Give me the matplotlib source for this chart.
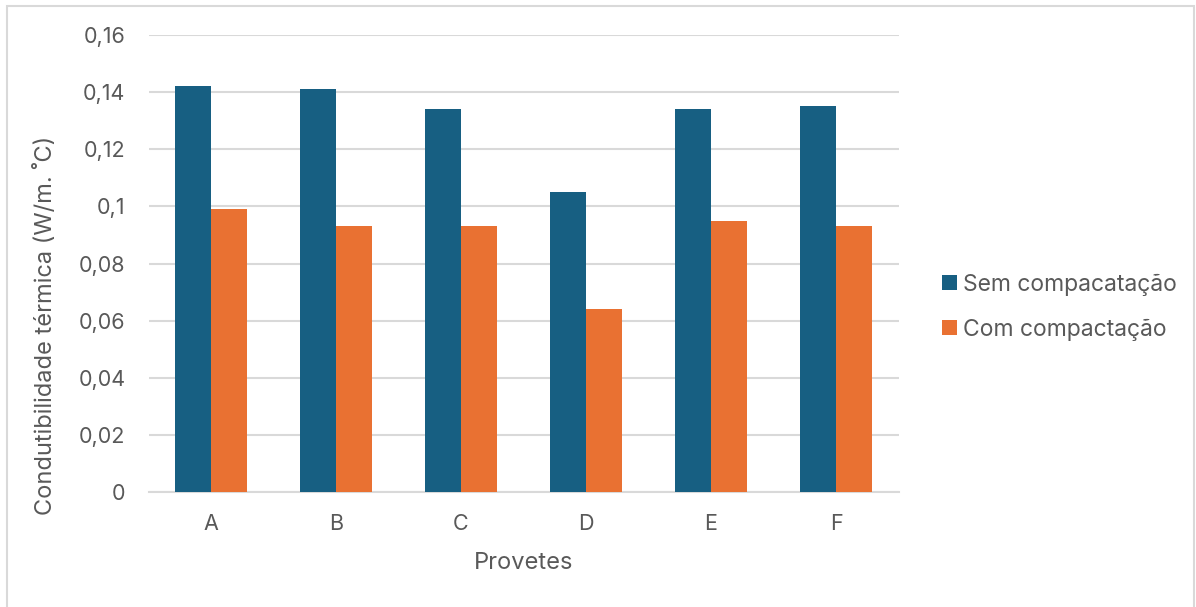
import matplotlib
matplotlib.use("Agg")
import matplotlib.pyplot as plt
from matplotlib.patches import Rectangle
import numpy as np

categories = ["A", "B", "C", "D", "E", "F"]
sem_compactacao = [0.142, 0.141, 0.134, 0.105, 0.134, 0.135]
com_compactacao = [0.099, 0.093, 0.093, 0.064, 0.095, 0.093]
series_names = ["Sem compacatação", "Com compactação"]
y_ticks = [0, 0.02, 0.04, 0.06, 0.08, 0.1, 0.12, 0.14, 0.16]
y_tick_labels = ["0", "0,02", "0,04", "0,06", "0,08", "0,1", "0,12", "0,14", "0,16"]

plt.rcParams["font.family"] = ["Inter", "DejaVu Sans"]
text_color = "#595959"
blue = "#175F82"
orange = "#E97132"

W, H = 1196, 607
fig = plt.figure(figsize=(W / 100, H / 100), dpi=100)

# outer chart frame
fig.patches.append(Rectangle((7 / W, -0.01), (1194 - 7) / W, 1 - 6 / H + 0.01,
                             transform=fig.transFigure, fill=False,
                             edgecolor="#D9D9D9", linewidth=1.5))

left, right, top, bottom = 148.5, 898.5, 35, 492
ax = fig.add_axes([left / W, 1 - bottom / H, (right - left) / W, (bottom - top) / H])

x = np.arange(len(categories))
bw = 0.288
ax.bar(x - bw / 2, sem_compactacao, width=bw, color=blue, label=series_names[0], zorder=3)
ax.bar(x + bw / 2, com_compactacao, width=bw, color=orange, label=series_names[1], zorder=3)

ax.set_xlim(-0.5, len(categories) - 0.5)
ax.set_ylim(0, 0.16)
ax.set_yticks(y_ticks)
ax.set_yticklabels(y_tick_labels)
ax.set_xticks(x)
ax.set_xticklabels(categories)
ax.yaxis.grid(True, color="#D9D9D9", linewidth=1.5, zorder=0)
ax.set_axisbelow(True)
for s in ["top", "right", "left"]:
    ax.spines[s].set_visible(False)
ax.spines["bottom"].set_color("#D9D9D9")
ax.spines["bottom"].set_linewidth(1.5)
ax.tick_params(axis="both", length=0, labelsize=15.5, colors=text_color)
ax.tick_params(axis="y", pad=16.5)
ax.tick_params(axis="x", pad=16)

ax.set_xlabel("Provetes", fontsize=17, color=text_color, labelpad=13)
fig.text(46 / W, 1 - 325 / H, "Condutibilidade térmica (W/m. ˚C)", rotation=90,
         ha="center", va="center", fontsize=17, color=text_color)

leg = fig.legend(loc="center left", bbox_to_anchor=(921 / W, 1 - 307 / H),
                 frameon=False, fontsize=16.5, handlelength=0.65, handleheight=0.65,
                 handletextpad=0.3, labelspacing=1.0, labelcolor=text_color)

fig.savefig("out.png", dpi=100, facecolor="white")
